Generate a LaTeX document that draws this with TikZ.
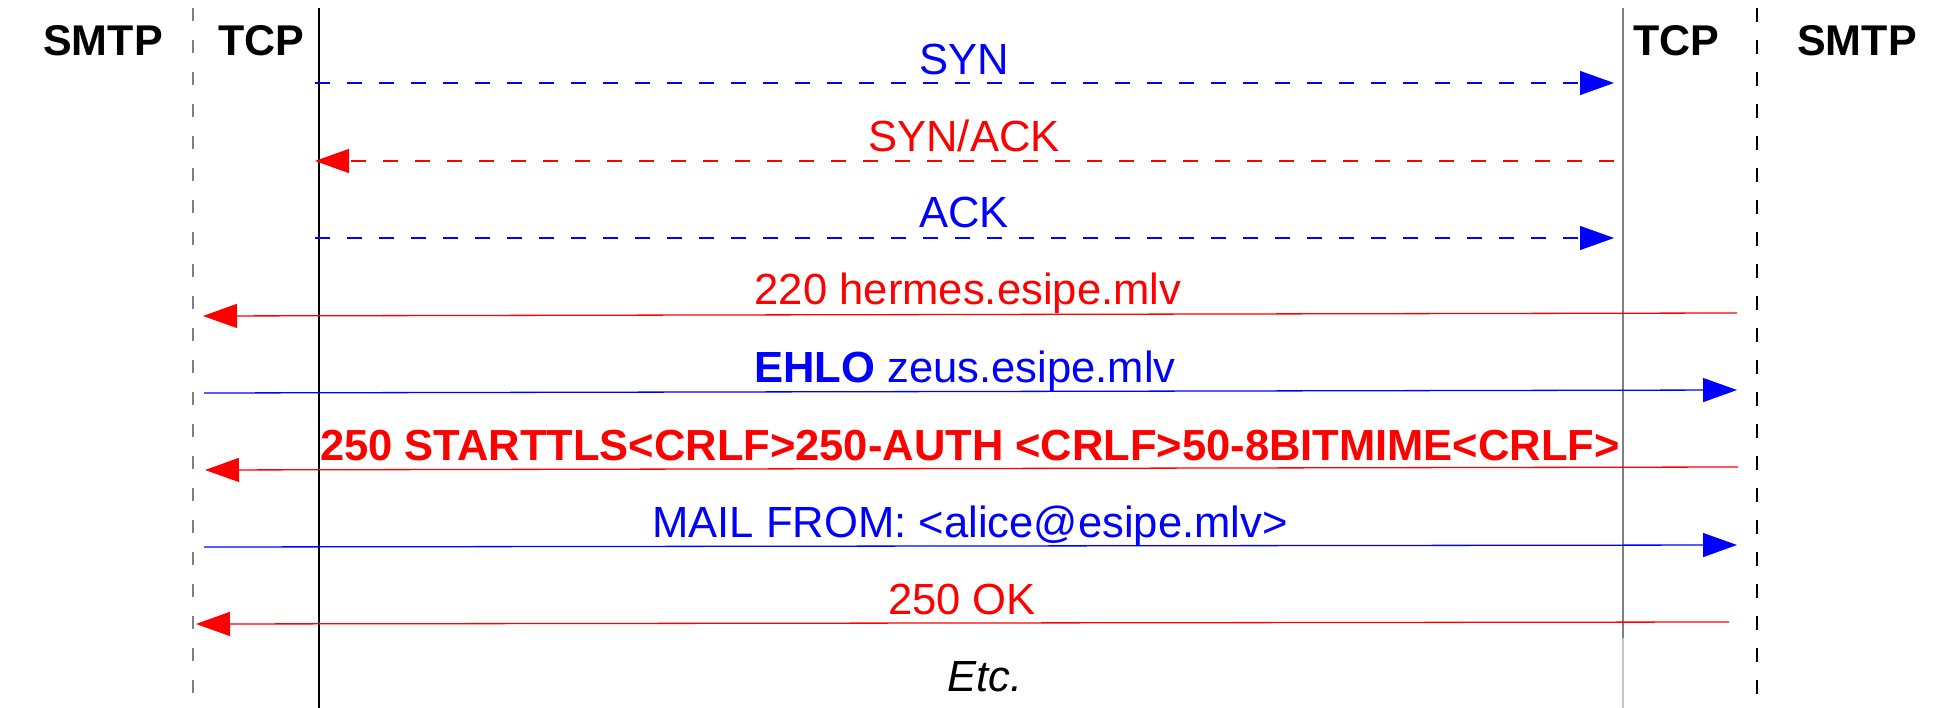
\documentclass[tikz,border=0pt]{standalone}
\usepackage{fontspec}
\setmainfont{Liberation Sans}
\usetikzlibrary{arrows.meta}
\definecolor{pblue}{RGB}{0,0,255}
\definecolor{pred}{RGB}{255,0,0}
\definecolor{lgray}{RGB}{128,128,128}
\begin{document}
\begin{tikzpicture}[x=1pt,y=-1pt,
  hdr/.style={anchor=base,inner sep=0pt,font=\fontsize{43}{50}\selectfont\bfseries},
  lbl/.style={anchor=base,inner sep=0pt,font=\fontsize{43.6}{50}\selectfont},
  msg/.style={line width=1.3pt,-{Triangle[length=34pt,width=24pt]}},
  dmsg/.style={msg,line width=1.1pt,dash pattern=on 15pt off 17pt},
  lifedash/.style={dash pattern=on 13pt off 19pt}]
\useasboundingbox (0,0) rectangle (1938,708);
% lifelines
\coordinate (ls1) at (193,8); \coordinate (ls2) at (193,708);
\coordinate (lt1) at (319,8); \coordinate (lt2) at (319,708);
\coordinate (rt1) at (1623,8); \coordinate (rt2) at (1623,638); \coordinate (rt3) at (1623,708);
\coordinate (rs1) at (1757,8); \coordinate (rs2) at (1757,708);
\draw[lgray,line width=2pt,lifedash] (ls1) -- (ls2);
\draw[black,line width=1.3pt] (lt1) -- (lt2);
\draw[lgray,line width=1.6pt] (rt1) -- (rt2);
\draw[lgray!45,line width=1.3pt] (rt2) -- (rt3);
\draw[black,line width=1.6pt,dash pattern=on 14pt off 18pt] (rs1) -- (rs2);
% headers
\node[hdr] (hsmtpl) at (103,56) {SMTP};
\node[hdr] (htcpl) at (261,56) {TCP};
\node[hdr] (htcpr) at (1676,56) {TCP};
\node[hdr] (hsmtpr) at (1857,56) {SMTP};
% endpoints
\coordinate (a1s) at (315,83);   \coordinate (a1e) at (1614,83);
\coordinate (a2s) at (1614,161); \coordinate (a2e) at (315,161);
\coordinate (a3s) at (315,238);  \coordinate (a3e) at (1614,238);
\coordinate (a4s) at (1737,313); \coordinate (a4e) at (203,316);
\coordinate (a5s) at (204,393);  \coordinate (a5e) at (1737,390);
\coordinate (a6s) at (1738,467); \coordinate (a6e) at (205,470);
\coordinate (a7s) at (204,547);  \coordinate (a7e) at (1737,545);
\coordinate (a8s) at (1729,622); \coordinate (a8e) at (196,624);
% messages
\draw[dmsg,pblue] (a1s) -- (a1e);
\draw[dmsg,pred] (a2s) -- (a2e);
\draw[dmsg,pblue] (a3s) -- (a3e);
\draw[msg,pred] (a4s) -- (a4e);
\draw[msg,pblue] (a5s) -- (a5e);
\draw[msg,pred] (a6s) -- (a6e);
\draw[msg,pblue] (a7s) -- (a7e);
\draw[msg,pred] (a8s) -- (a8e);
% labels
\node[lbl,text=pblue] (l1) at (964,75) {SYN};
\node[lbl,text=pred] (l2) at (964,152) {SYN/ACK};
\node[lbl,text=pblue] (l3) at (964,228) {ACK};
\node[lbl,text=pred] (l4) at (968,305) {220 hermes.esipe.mlv};
\node[lbl,text=pblue] (l5) at (965,382) {\textbf{EHLO} zeus.esipe.mlv};
\node[lbl,text=pred,font=\fontsize{43.5}{50}\selectfont\bfseries] (l6) at (970,460) {250 STARTTLS<CRLF>250-AUTH <CRLF>50-8BITMIME<CRLF>};
\node[lbl,text=pblue] (l7) at (970,537) {MAIL FROM: <alice@esipe.mlv>};
\node[lbl,text=pred] (l8) at (962,614) {250 OK};
\node[lbl,text=black,font=\fontsize{43.6}{50}\selectfont\itshape] (l9) at (985,691) {Etc.};
\end{tikzpicture}
\end{document}
